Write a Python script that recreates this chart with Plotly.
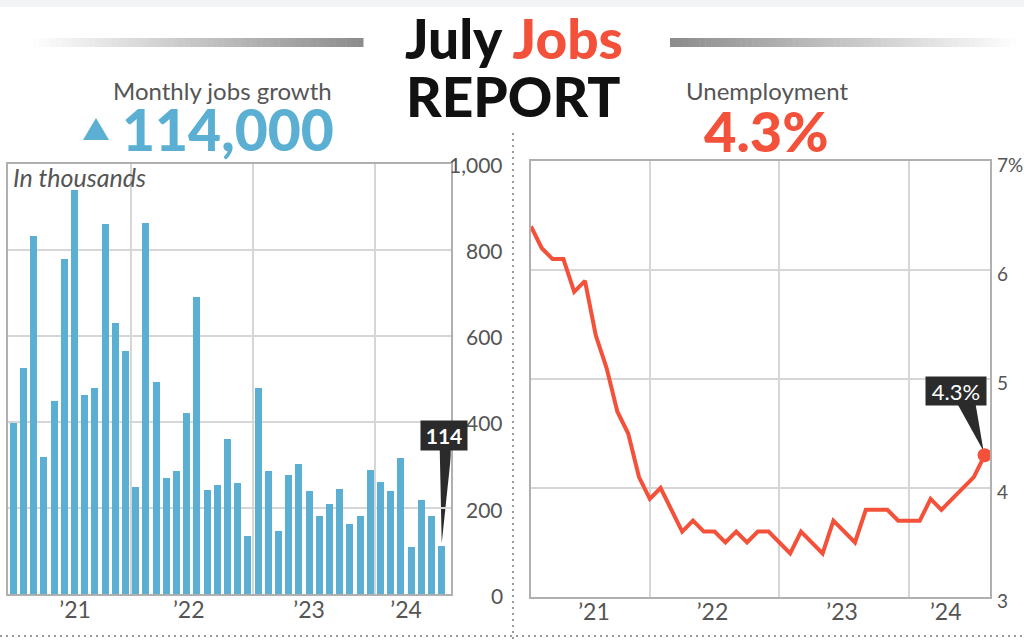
import plotly.graph_objects as go

W, H = 1024, 640

# ---------------- data ----------------
month_index = list(range(43))  # Jan 2021 .. Jul 2024
jobs_growth = [398, 527, 832, 320, 451, 779, 939, 464, 481, 861, 632, 566,
               251, 863, 495, 272, 287, 421, 691, 243, 256, 362, 259, 136,
               481, 287, 147, 278, 303, 240, 184, 210, 246, 165, 182, 290,
               262, 241, 317, 110, 221, 183, 114]
unemployment = [6.4, 6.2, 6.1, 6.1, 5.8, 5.9, 5.4, 5.1, 4.7, 4.5, 4.1, 3.9,
                4.0, 3.8, 3.6, 3.7, 3.6, 3.6, 3.5, 3.6, 3.5, 3.6, 3.6, 3.5,
                3.4, 3.6, 3.5, 3.4, 3.7, 3.6, 3.5, 3.8, 3.8, 3.8, 3.7, 3.7,
                3.7, 3.9, 3.8, 3.9, 4.0, 4.1, 4.3]
year_labels = ["\u201921", "\u201922", "\u201923", "\u201924"]
jobs_label_pos = [6.05, 17.2, 29.0, 38.5]
jobs_year_breaks = [11.5, 23.5, 35.5]
unemp_label_pos = [5.83, 16.8, 28.8, 38.4]
unemp_year_breaks = [11, 23, 35]
jobs_ticks = [0, 200, 400, 600, 800, 1000]
jobs_tick_text = ["0", "200", "400", "600", "800", "1,000"]
unemp_ticks = [3, 4, 5, 6, 7]
unemp_tick_text = ["3", "4", "5", "6", "7%"]

# ---------------- style ----------------
FONT = "Lato, 'Open Sans', sans-serif"
BLUE = "#5aafd2"
RED = "#f4513a"
DARK = "#2b2b2b"
GRID = "#d6d6d6"
AXLINE = "#b0b0b0"
TXT = "#555555"


def px(x):
    return x / W


def py(y):
    return 1 - y / H


fig = go.Figure()

fig.add_trace(go.Bar(
    x=month_index, y=jobs_growth, width=0.68,
    marker=dict(color=BLUE, line=dict(width=0)),
    xaxis="x", yaxis="y", hoverinfo="skip", showlegend=False))

fig.add_trace(go.Scatter(
    x=month_index, y=unemployment, mode="lines",
    line=dict(color=RED, width=4),
    xaxis="x2", yaxis="y2", cliponaxis=False, hoverinfo="skip", showlegend=False))

fig.add_trace(go.Scatter(
    x=[month_index[-1]], y=[unemployment[-1]], mode="markers",
    marker=dict(color=RED, size=14),
    xaxis="x2", yaxis="y2", cliponaxis=False, hoverinfo="skip", showlegend=False))

axis_common = dict(showline=True, linecolor=AXLINE, linewidth=1.5, mirror=True,
                   zeroline=False, ticks="", fixedrange=True)

fig.update_layout(
    width=W, height=H, autosize=False,
    margin=dict(l=0, r=0, t=0, b=0),
    paper_bgcolor="white", plot_bgcolor="white",
    font=dict(family=FONT, color=TXT),
    showlegend=False,
    bargap=0,
    xaxis=dict(domain=[px(8), px(450.7)], range=[-0.52, 42.88], anchor="y",
               showgrid=False, tickmode="array", tickvals=jobs_label_pos, ticktext=year_labels,
               tickfont=dict(family=FONT, size=23, color=TXT), ticklabelstandoff=-6,
               minor=dict(tickmode="array", tickvals=jobs_year_breaks, showgrid=True,
                          gridcolor=GRID, gridwidth=1.5, ticks=""),
               **axis_common),
    yaxis=dict(domain=[py(594.3), py(163.5)], range=[0, 1000], anchor="x",
               tickmode="array", tickvals=jobs_ticks, showticklabels=False,
               showgrid=True, gridcolor=GRID, gridwidth=1.5, **axis_common),
    xaxis2=dict(domain=[px(531), px(990)], range=[0, 42.5], anchor="y2",
                showgrid=False, tickmode="array", tickvals=unemp_label_pos, ticktext=year_labels,
                tickfont=dict(family=FONT, size=23, color=TXT), ticklabelstandoff=-6,
                minor=dict(tickmode="array", tickvals=unemp_year_breaks, showgrid=True,
                           gridcolor=GRID, gridwidth=1.5, ticks=""),
                **axis_common),
    yaxis2=dict(domain=[py(597), py(161)], range=[3, 7], anchor="x2",
                tickmode="array", tickvals=unemp_ticks, showticklabels=False,
                showgrid=True, gridcolor=GRID, gridwidth=1.5, **axis_common),
)

annotations = []
shapes = []

# y tick labels (right-aligned for jobs, left-aligned for unemployment)
for v, t in zip(jobs_ticks, jobs_tick_text):
    annotations.append(dict(xref="paper", yref="y", x=px(505), y=v, text=t,
                            xanchor="right", yanchor="middle", showarrow=False,
                            yshift=-1, font=dict(family=FONT, size=21, color=TXT)))
for v, t in zip(unemp_ticks, unemp_tick_text):
    annotations.append(dict(xref="paper", yref="y2", x=px(995), y=v, text=t,
                            xanchor="left", yanchor="middle", showarrow=False,
                            yshift=-3, font=dict(family=FONT, size=19, color=TXT)))


# header texts
def txt(x, y, text, size, color, bold=False, italic=False, xanchor="center", weight=None):
    s = text
    if italic:
        s = f"<i>{s}</i>"
    f = dict(family=FONT, size=size, color=color)
    if weight is not None:
        f["weight"] = weight
    elif bold:
        f["weight"] = 700
    annotations.append(dict(xref="paper", yref="paper", x=px(x), y=py(y), text=s,
                            xanchor=xanchor, yanchor="middle", showarrow=False,
                            font=f))


txt(513.5, 37.5, f"July <span style='color:{RED}'>Jobs</span>", 55, "#111111", weight=900)
txt(512.5, 96.5, "REPORT", 55, "#111111", weight=900)
txt(222, 90, "Monthly jobs growth", 24, TXT)
txt(228, 129, "114,000", 57, BLUE, weight=900)
txt(766.5, 90, "Unemployment", 24, TXT)
txt(766.5, 130, "4.3%", 56, RED, weight=900)
txt(11, 177, "In thousands", 25, TXT, italic=True, xanchor="left")

# blue up triangle
shapes.append(dict(type="path", xref="paper", yref="paper",
                   path=f"M {px(83)},{py(140)} L {px(109)},{py(140)} L {px(96)},{py(118)} Z",
                   fillcolor=BLUE, line=dict(width=0)))

# top band
shapes.append(dict(type="rect", xref="paper", yref="paper", x0=0, x1=1, y0=py(7), y1=1,
                   fillcolor="#f3f4f6", line=dict(width=0), layer="below"))


# gradient bars
def grad_bar(x0, x1, y0, y1, c_start, c_end, n=60):
    for i in range(n):
        t = i / (n - 1)
        c = tuple(int(round(c_start[k] + (c_end[k] - c_start[k]) * t)) for k in range(3))
        xa = x0 + (x1 - x0) * i / n
        xb = x0 + (x1 - x0) * (i + 1) / n + 0.5
        shapes.append(dict(type="rect", xref="paper", yref="paper",
                           x0=px(xa), x1=px(xb), y0=py(y1), y1=py(y0),
                           fillcolor=f"rgb{c}", line=dict(width=0)))


grad_bar(28, 363, 38, 47, (255, 255, 255), (140, 140, 140))
grad_bar(670, 1022, 38, 47, (140, 140, 140), (255, 255, 255))

# dotted separators
shapes.append(dict(type="line", xref="paper", yref="paper", x0=px(513), x1=px(513),
                   y0=py(133), y1=0, line=dict(color="#9a9a9a", width=2, dash="2px,4px")))
shapes.append(dict(type="line", xref="paper", yref="paper", x0=0, x1=1,
                   y0=py(636), y1=py(636), line=dict(color="#9a9a9a", width=2, dash="2px,4px")))

# callout: last jobs value
last_i = month_index[-1]
annotations.append(dict(xref="x", yref="y", x=last_i, y=jobs_growth[-1],
                        text=f"{jobs_growth[-1]}", showarrow=False,
                        xanchor="center", yanchor="middle", xshift=2, yshift=110,
                        width=42, height=25, borderpad=2, bgcolor=DARK,
                        font=dict(family=FONT, size=21, color="white", weight=700)))
shapes.append(dict(type="path", xref="x", yref="y", xsizemode="pixel", ysizemode="pixel",
                   xanchor=last_i, yanchor=jobs_growth[-1],
                   path="M 0,2 L -2,97 L 10,97 Z", fillcolor=DARK, line=dict(width=0),
                   layer="below"))

# callout: last unemployment value
annotations.append(dict(xref="x2", yref="y2", x=last_i, y=unemployment[-1],
                        text=f"{unemployment[-1]:.1f}%", showarrow=False,
                        xanchor="center", yanchor="middle", xshift=-29, yshift=64,
                        width=56, height=24, borderpad=2, bgcolor=DARK,
                        font=dict(family=FONT, size=22, color="white")))
shapes.append(dict(type="path", xref="x2", yref="y2", xsizemode="pixel", ysizemode="pixel",
                   xanchor=last_i, yanchor=unemployment[-1],
                   path="M -1,4 L -27,51 L -9,51 Z", fillcolor=DARK, line=dict(width=0),
                   layer="below"))

fig.update_layout(annotations=annotations, shapes=shapes)

fig.write_html("out.html", config={"displayModeBar": False})
